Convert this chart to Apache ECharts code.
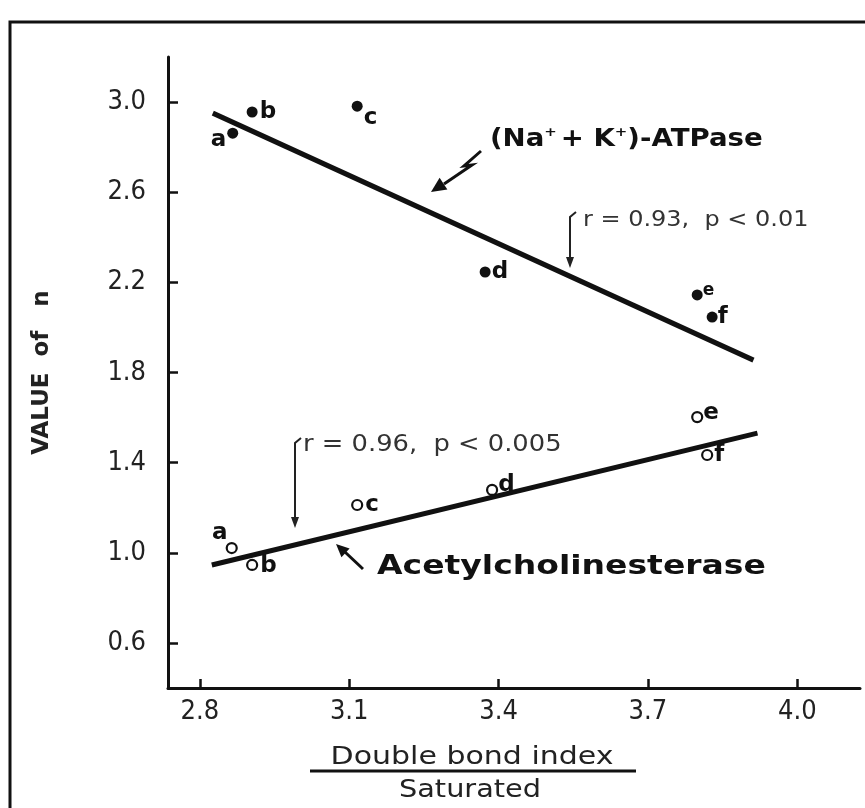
<!DOCTYPE html>
<html><head><meta charset="utf-8">
<script src="https://cdn.jsdelivr.net/npm/echarts@6/dist/echarts.min.js"></script>
<style>html,body{margin:0;padding:0;background:#fff}#c{width:865px;height:808px}</style>
</head><body><div id="c"></div>
<script>
// ---- data ----
const xTickValues = [2.8, 3.1, 3.4, 3.7, 4.0];
const yTickValues = [0.6, 1.0, 1.4, 1.8, 2.2, 2.6, 3.0];
const pointNames = ['a', 'b', 'c', 'd', 'e', 'f'];
const atpaseX = [2.866, 2.905, 3.116, 3.373, 3.799, 3.829];
const atpaseY = [2.862, 2.956, 2.982, 2.246, 2.144, 2.046];
const acheX = [2.864, 2.905, 3.116, 3.387, 3.799, 3.819];
const acheY = [1.021, 0.946, 1.212, 1.279, 1.602, 1.434];
const atpaseFitX = [2.826, 3.912];
const atpaseFitY = [2.951, 1.855];
const acheFitX = [2.824, 3.920];
const acheFitY = [0.946, 1.531];

// ---- label placement (style only) ----
const atpaseLabelPos = [
  {position: 'left', offset: [3, 7]},
  {position: 'right', offset: [-2, 0]},
  {position: 'right', offset: [-3, 12]},
  {position: 'right', offset: [-3, 0]},
  {position: 'right', offset: [-4, -4], fontSize: 17},
  {position: 'right', offset: [-4, 0]}
];
const acheLabelPos = [
  {position: 'left', offset: [6, -15]},
  {position: 'right', offset: [-2, 1]},
  {position: 'right', offset: [-2, 0]},
  {position: 'right', offset: [-4, -5]},
  {position: 'right', offset: [-4, -4]},
  {position: 'right', offset: [-3, 0]}
];

function scatterData(xs, ys, names, styles) {
  return xs.map((x, i) => ({
    value: [x, ys[i]], name: names[i],
    label: Object.assign({show: true, formatter: names[i]}, styles[i])
  }));
}
function lineData(xs, ys) { return xs.map((x, i) => [x, ys[i]]); }

const tickFont = 'Liberation Sans Narrow, DejaVu Sans Condensed, sans-serif';
const mainFont = 'DejaVu Sans, Liberation Sans, sans-serif';

function arrowHead(tip, from, len, half) {
  const dx = tip[0] - from[0], dy = tip[1] - from[1];
  const d = Math.sqrt(dx * dx + dy * dy);
  const ux = dx / d, uy = dy / d;
  const bx = tip[0] - ux * len, by = tip[1] - uy * len;
  return [[tip[0], tip[1]], [bx - uy * half, by + ux * half], [bx + uy * half, by - ux * half]];
}

const chart = echarts.init(document.getElementById('c'), null, {renderer: 'canvas'});
const ink = '#111';
const option = {
  backgroundColor: '#fff',
  animation: false,
  grid: {left: 168, right: 5, top: 57, bottom: 120, containLabel: false},
  xAxis: {
    type: 'value', min: 2.736, max: 4.126,
    splitLine: {show: false},
    axisLine: {onZero: false, lineStyle: {color: ink, width: 3}},
    axisTick: {inside: true, length: 9, customValues: xTickValues, lineStyle: {color: ink, width: 2.5}},
    axisLabel: {customValues: xTickValues, margin: 10, fontSize: 27, fontFamily: tickFont, color: '#222',
      formatter: v => v.toFixed(1)}
  },
  yAxis: {
    type: 'value', min: 0.4, max: 3.2,
    splitLine: {show: false},
    name: 'VALUE  of   n', nameLocation: 'middle', nameGap: 114, nameRotate: 90,
    nameTextStyle: {fontSize: 23, fontWeight: 'bold', fontFamily: mainFont, color: '#222'},
    axisLine: {onZero: false, lineStyle: {color: ink, width: 3}},
    axisTick: {inside: true, length: 10, customValues: yTickValues, lineStyle: {color: ink, width: 2.5}},
    axisLabel: {customValues: yTickValues, margin: 22, fontSize: 27, fontFamily: tickFont, color: '#222',
      formatter: v => v.toFixed(1)}
  },
  series: [
    {
      type: 'line', data: lineData(atpaseFitX, atpaseFitY), showSymbol: false, symbol: 'none',
      lineStyle: {color: ink, width: 5}, z: 2, silent: true
    },
    {
      type: 'line', data: lineData(acheFitX, acheFitY), showSymbol: false, symbol: 'none',
      lineStyle: {color: ink, width: 5}, z: 2, silent: true
    },
    {
      type: 'scatter', symbol: 'circle', symbolSize: 11, z: 3,
      itemStyle: {color: ink, opacity: 1},
      label: {color: ink, fontSize: 23, fontWeight: 'bold', fontFamily: mainFont, distance: 4},
      data: scatterData(atpaseX, atpaseY, pointNames, atpaseLabelPos)
    },
    {
      type: 'scatter', symbol: 'circle', symbolSize: 10, z: 3,
      itemStyle: {color: '#fff', borderColor: ink, borderWidth: 2.2, opacity: 1},
      label: {color: ink, fontSize: 23, fontWeight: 'bold', fontFamily: mainFont, distance: 4},
      data: scatterData(acheX, acheY, pointNames, acheLabelPos)
    }
  ],
  graphic: [
    // frame
    {type: 'polyline', shape: {points: [[10, 830], [10, 22], [880, 22]]},
      style: {stroke: ink, lineWidth: 3, fill: null}},
    // x axis title (fraction)
    {type: 'text', x: 472, y: 757, scaleX: 1.2, style: {text: 'Double bond index', fontSize: 25, fontFamily: mainFont,
      fill: '#222', align: 'center', verticalAlign: 'middle'}},
    {type: 'line', shape: {x1: 310, y1: 771, x2: 636, y2: 771}, style: {stroke: ink, lineWidth: 3}},
    {type: 'text', x: 470, y: 790, scaleX: 1.15, style: {text: 'Saturated', fontSize: 25, fontFamily: mainFont,
      fill: '#222', align: 'center', verticalAlign: 'middle'}},
    // ATPase label
    {type: 'text', x: 490, y: 140, scaleX: 1.15, style: {
      text: '{n|(Na}{s|+} {n|+ K}{s|+}{n|)-ATPase}',
      rich: {
        n: {fontSize: 24, fontWeight: 'bold', fontFamily: mainFont, fill: ink},
        s: {fontSize: 13, fontWeight: 'bold', fontFamily: mainFont, fill: ink, verticalAlign: 'top', padding: [0, 0, 14, 0]}
      },
      verticalAlign: 'middle'}},
    // zigzag arrow
    {type: 'polyline', shape: {points: [[481, 151], [464, 166], [472, 165], [444, 184]]},
      style: {stroke: ink, lineWidth: 3, fill: null}},
    {type: 'polygon', shape: {points: arrowHead([431, 192], [446, 182], 15, 7)}, style: {fill: ink}},
    // r ATPase
    {type: 'text', x: 583, y: 220, scaleX: 1.09, style: {text: 'r = 0.93,  p < 0.01', fontSize: 22, fontFamily: mainFont,
      fill: '#333', verticalAlign: 'middle'}},
    {type: 'polyline', shape: {points: [[576, 212], [570, 217], [570, 260]]},
      style: {stroke: '#222', lineWidth: 2, fill: null}},
    {type: 'polygon', shape: {points: arrowHead([570, 268], [570, 250], 11, 4)}, style: {fill: '#222'}},
    // r AChE
    {type: 'text', x: 303, y: 445, scaleX: 1.12, style: {text: 'r = 0.96,  p < 0.005', fontSize: 23, fontFamily: mainFont,
      fill: '#333', verticalAlign: 'middle'}},
    {type: 'polyline', shape: {points: [[301, 438], [295, 443], [295, 520]]},
      style: {stroke: '#222', lineWidth: 2, fill: null}},
    {type: 'polygon', shape: {points: arrowHead([295, 528], [295, 510], 11, 4)}, style: {fill: '#222'}},
    // Acetylcholinesterase label + arrow
    {type: 'text', x: 377, y: 567, scaleX: 1.27, style: {text: 'Acetylcholinesterase', fontSize: 26, fontWeight: 'bold',
      fontFamily: mainFont, fill: ink, verticalAlign: 'middle'}},
    {type: 'line', shape: {x1: 363, y1: 569, x2: 345, y2: 552}, style: {stroke: ink, lineWidth: 3}},
    {type: 'polygon', shape: {points: arrowHead([336, 544], [350, 557], 13, 6)}, style: {fill: ink}}
  ]
};
chart.setOption(option);
</script>
</body></html>
